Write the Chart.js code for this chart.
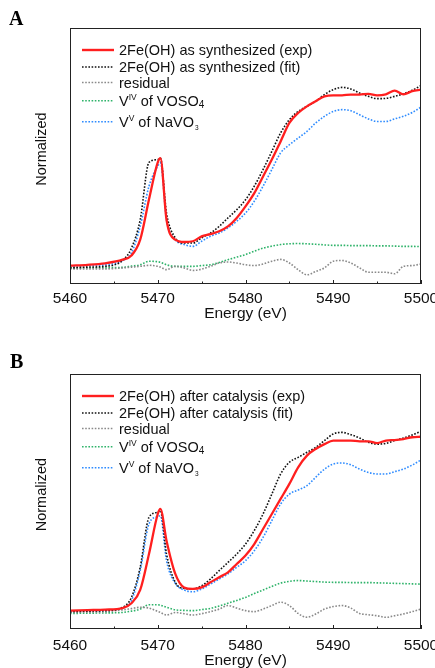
<!DOCTYPE html>
<html>
<head>
<meta charset="utf-8">
<script src="https://cdn.jsdelivr.net/npm/chart.js@4"></script>
<style>
  html, body { margin: 0; padding: 0; background: #fff; overflow: hidden; }
  #wrap { position: relative; width: 435px; height: 668px; overflow: hidden; }
  canvas { position: absolute; left: 0; display: block; }
  #chartA { top: 0; }
  #chartB { top: 334px; }
</style>
</head>
<body>
<div id="wrap">
  <canvas id="chartA" width="450" height="334"></canvas>
  <canvas id="chartB" width="450" height="344"></canvas>
</div>
<script>
// --- DATA (y in % of the plot height) ---
const energy = [5460, 5462, 5464, 5466, 5467, 5468, 5469, 5470, 5470.3, 5471, 5472, 5473, 5474, 5475,
    5476, 5477, 5478, 5479, 5480, 5481, 5482, 5483, 5484, 5485, 5486, 5487, 5488, 5489, 5490,
    5491, 5492, 5493, 5494, 5495, 5496, 5497, 5498, 5499, 5500];
const xTicks = [5460, 5470, 5480, 5490, 5500];

// panel A: as synthesized
const aExp = [7.2, 7.5, 8.1, 9.5, 11.1, 17.3, 33, 47.5, 49.2, 25.1, 17.3, 16.4, 16.7, 18.6,
    19.5, 20.6, 22.5, 25.8, 30.3, 35.5, 42, 48.6, 55.7, 62.9, 66.8, 69.4, 71.4, 73.3, 73.7,
    73.7, 74, 74, 74.3, 73.7, 74.1, 75.5, 74.1, 75.3, 75.9];
const aFit = [6.3, 6.6, 6.9, 9.2, 14, 25.1, 47.5, 48.6, 49.2, 27.7, 18, 16, 16, 18,
    19.9, 22.5, 25.8, 29, 32.9, 38.2, 44.7, 51.8, 59, 64.2, 67.4, 69.4, 71.4, 74, 75.9,
    76.8, 76.2, 74.6, 73.3, 72.4, 72.5, 73.3, 74.3, 75.7, 77.5];
const aResidual = [5.9, 5.9, 5.9, 6.3, 6.6, 6.9, 7.3, 6.9, 6.6, 5.6, 6.9, 6.3, 5.3, 5.8,
    6.9, 8.2, 8.6, 8.2, 7.5, 7.2, 7.8, 8.9, 9.6, 8.2, 5.6, 3.6, 4.9, 6.3, 8.9,
    9.2, 8.2, 6.3, 4.6, 4.6, 4.6, 4.0, 6.9, 7.2, 7.8];
const aVOSO4 = [6.3, 6.3, 6.4, 6.5, 7, 7.5, 8.9, 8.7, 8.5, 7.5, 6.9, 6.9, 6.9, 7.2,
    7.5, 8.4, 9.5, 10.5, 11.5, 12.8, 14, 14.8, 15.4, 15.7, 15.8, 15.7, 15.5, 15.3, 15.1,
    15.1, 15, 15, 15, 14.9, 14.9, 14.8, 14.7, 14.7, 14.6];
const aNaVO3 = [6.9, 7.2, 7.5, 9.2, 12.1, 22.5, 38.2, 46, 47.3, 25.1, 17.3, 15.4, 14.7, 16.7,
    18.6, 19.9, 21.9, 24.5, 27.7, 32.3, 38.2, 44.7, 51.2, 54.4, 57, 59.6, 62.9, 65.5, 67.4,
    68.1, 67.7, 66.1, 64.5, 63.5, 63.5, 64.5, 65.5, 67, 69.1];

// panel B: after catalysis
const bExp = [7.2, 7.4, 7.6, 8.2, 10.1, 15.3, 29.4, 45.1, 47.1, 34.6, 21.6, 16.3, 15.7, 16.3,
    18.3, 20.3, 22.2, 25.5, 28.8, 33.3, 39.2, 45.1, 51, 56.9, 63.4, 68, 70.6, 72.5, 73.9,
    73.9, 73.9, 73.6, 73.6, 72.9, 73.9, 74.1, 74.5, 75.2, 75.4];
const bFit = [6.8, 7.0, 7.2, 8.5, 12.4, 24.2, 43.8, 45.8, 46.4, 29.4, 18.3, 15.9, 15.7, 17,
    19.6, 22.9, 26.1, 29.4, 33.3, 38.6, 45.1, 52.9, 60.8, 65.4, 67.3, 69.3, 71.2, 73.9, 76.5,
    77.1, 76.2, 74.9, 73.2, 72.5, 72.8, 73.9, 74.9, 76.1, 77.5];
const bResidual = [6.5, 6.6, 6.8, 7.5, 8.0, 8.5, 8.2, 6.9, 6.5, 5.5, 6.5, 6.0, 5.5, 6.0,
    6.8, 7.8, 9.2, 8.2, 7.2, 6.8, 7.8, 9.2, 10.5, 9.2, 6.1, 4.6, 5.9, 7.8, 8.8,
    9.2, 8.2, 6.1, 5.6, 5.2, 4.6, 5.2, 5.9, 6.8, 7.8];
const bVOSO4 = [6.1, 6.2, 6.3, 6.5, 7.0, 7.8, 9.5, 9.5, 9.3, 8.5, 7.5, 7.3, 7.2, 7.6,
    8.1, 9.0, 10.1, 11.2, 12.4, 13.9, 15.3, 16.7, 18, 18.7, 19, 18.8, 18.6, 18.4, 18.3,
    18.3, 18.2, 18.2, 18.2, 18.1, 18, 17.9, 17.8, 17.7, 17.6];
const bNaVO3 = [6.8, 7.0, 7.2, 8.2, 11.1, 22.9, 41.2, 44.1, 44.4, 26.8, 17.9, 15.3, 14.6, 15.7,
    17.6, 19.6, 21.6, 24.2, 26.8, 30.7, 35.9, 42.5, 49, 52.9, 54.5, 56.2, 59.5, 62.7, 64.7,
    65.1, 64.4, 62.7, 61.4, 60.8, 60.8, 61.7, 62.7, 64.3, 66.3];

const FONT = "'Liberation Sans', Arial, sans-serif";
const colors = { exp: "#ff1f1f", fit: "#111111", residual: "#8a8a8a", voso4: "#2fb36a", navo3: "#2f8cff" };

function pts(values) {
    return energy.map((e, i) => ({ x: e, y: values[i] }));
}

// legend entries: parts are [text, kind] with kind "n" normal, "sup", "sub", "sub3"
function legendRows(label) {
    return [
        { color: colors.exp, dash: [], width: 2.4, parts: [["2Fe(OH) " + label + " (exp)", "n"]] },
        { color: colors.fit, dash: [1.6, 1.6], width: 1.6, parts: [["2Fe(OH) " + label + " (fit)", "n"]] },
        { color: colors.residual, dash: [1.6, 1.6], width: 1.6, parts: [["residual", "n"]] },
        { color: colors.voso4, dash: [1.6, 1.6], width: 1.6, parts: [["V", "n"], ["IV", "sup"], [" of VOSO", "n"], ["4", "sub"]] },
        { color: colors.navo3, dash: [1.6, 1.6], width: 1.6, parts: [["V", "n"], ["V", "sup"], [" of NaVO", "n"], ["3", "sub3"]] }
    ];
}

const panelDeco = {
    id: "panelDeco",
    afterDatasetsDraw(chart, args, opts) {
        const { ctx, chartArea: a } = chart;
        const xs = chart.scales.x;
        ctx.save();

        // frame
        ctx.strokeStyle = "#222";
        ctx.lineWidth = 1;
        ctx.setLineDash([]);
        ctx.strokeRect(a.left + 0.5, a.top + 0.5, a.right - a.left - 1, a.bottom - a.top - 1);

        // inward ticks
        for (let v = 5460; v <= 5500; v += 5) {
            const px = Math.round(xs.getPixelForValue(v)) + 0.5;
            const len = v % 10 === 0 ? 4 : 2.5;
            ctx.beginPath();
            ctx.moveTo(px, a.bottom);
            ctx.lineTo(px, a.bottom - len);
            ctx.stroke();
        }

        // legend
        const rowY = [22, 39, 54.5, 72.7, 93.7];
        opts.rows.forEach((row, i) => {
            const y = a.top + rowY[i];
            ctx.strokeStyle = row.color;
            ctx.lineWidth = row.width;
            ctx.setLineDash(row.dash);
            ctx.beginPath();
            ctx.moveTo(a.left + 12, y);
            ctx.lineTo(a.left + 44, y);
            ctx.stroke();
            ctx.setLineDash([]);

            let x = a.left + 49;
            const base = y + 5.2;
            ctx.fillStyle = "#111";
            ctx.textBaseline = "alphabetic";
            ctx.textAlign = "left";
            row.parts.forEach(([t, kind]) => {
                let size = 14.5, dy = 0;
                if (kind === "sup") { size = 8.5; dy = -5.5; }
                if (kind === "sub") { size = 10; dy = 2.5; }
                if (kind === "sub3") { size = 6.5; dy = 3.5; x += 1; }
                ctx.font = size + "px " + FONT;
                ctx.fillText(t, x, base + dy);
                x += ctx.measureText(t).width;
            });
        });

        // y title
        ctx.save();
        ctx.translate(41.5, opts.yTitleY);
        ctx.rotate(-Math.PI / 2);
        ctx.font = "14.5px " + FONT;
        ctx.fillStyle = "#111";
        ctx.textAlign = "center";
        ctx.textBaseline = "middle";
        ctx.fillText("Normalized", 0, 0);
        ctx.restore();

        // panel letter
        ctx.font = "bold 20px 'Liberation Serif', 'Times New Roman', serif";
        ctx.fillStyle = "#000";
        ctx.textAlign = "left";
        ctx.textBaseline = "alphabetic";
        ctx.fillText(opts.letter, opts.letterX, opts.letterY);
        ctx.restore();
    }
};

function makePanel(canvasId, cfg) {
    const dotted = (label, data, color) => ({
        label, data: pts(data), borderColor: color, borderWidth: 1.6,
        borderDash: [1.6, 1.6], pointRadius: 0, cubicInterpolationMode: "monotone"
    });
    new Chart(document.getElementById(canvasId), {
        type: "line",
        data: {
            datasets: [
                { label: "exp", data: pts(cfg.exp), borderColor: colors.exp, borderWidth: 2.3,
                  pointRadius: 0, cubicInterpolationMode: "monotone" },
                dotted("fit", cfg.fit, colors.fit),
                dotted("residual", cfg.residual, colors.residual),
                dotted("VOSO4", cfg.voso4, colors.voso4),
                dotted("NaVO3", cfg.navo3, colors.navo3)
            ]
        },
        options: {
            responsive: false,
            animation: false,
            devicePixelRatio: 1,
            layout: { padding: { top: cfg.top, right: 29, left: 0, bottom: 0 } },
            plugins: {
                legend: { display: false },
                tooltip: { enabled: false },
                panelDeco: cfg.deco
            },
            scales: {
                x: {
                    type: "linear",
                    min: 5460,
                    max: 5500,
                    afterBuildTicks: scale => { scale.ticks = xTicks.map(v => ({ value: v })); },
                    grid: { display: false, drawTicks: false },
                    border: { display: false },
                    ticks: {
                        color: "#111", font: { family: FONT, size: 15.5 }, padding: cfg.tickPad, maxRotation: 0,
                        callback: value => String(value)
                    },
                    title: {
                        display: true, text: "Energy (eV)", color: "#111",
                        font: { family: FONT, size: 15.5 }, padding: { top: 0, bottom: cfg.titlePad }
                    },
                    afterFit: scale => { scale.height = cfg.xHeight; }
                },
                y: {
                    min: 0,
                    max: 100,
                    grid: { display: false, drawTicks: false },
                    border: { display: false },
                    ticks: { display: false },
                    afterFit: scale => { scale.width = 70; }
                }
            }
        },
        plugins: [panelDeco]
    });
}

makePanel("chartA", {
    exp: aExp, fit: aFit, residual: aResidual, voso4: aVOSO4, navo3: aNaVO3,
    top: 28, xHeight: 50, tickPad: 5, titlePad: 10.6,
    deco: { rows: legendRows("as synthesized"), yTitleY: 149, letter: "A", letterX: 9, letterY: 25 }
});

makePanel("chartB", {
    exp: bExp, fit: bFit, residual: bResidual, voso4: bVOSO4, navo3: bNaVO3,
    top: 40, xHeight: 49, tickPad: 7.5, titlePad: 8.4,
    deco: { rows: legendRows("after catalysis"), yTitleY: 160.6, letter: "B", letterX: 10, letterY: 34 }
});
</script>
</body>
</html>
